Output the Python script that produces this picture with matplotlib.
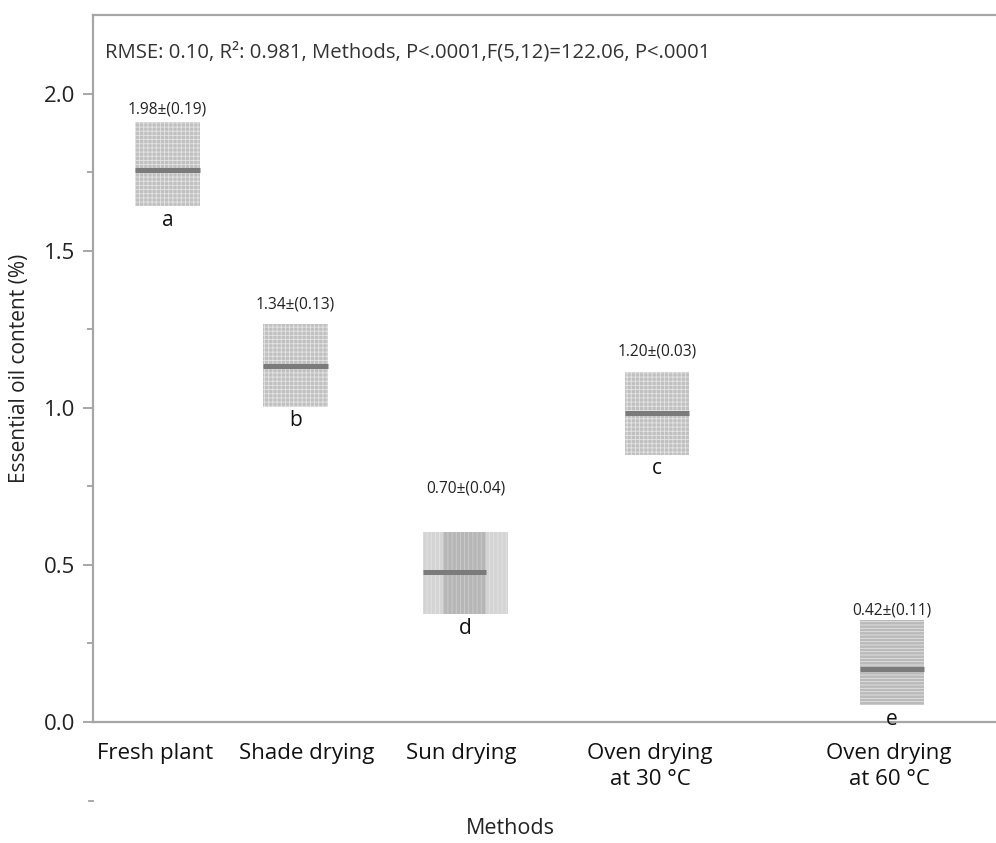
import matplotlib
matplotlib.use("Agg")
import matplotlib.pyplot as plt
from matplotlib.patches import Rectangle
import matplotlib.transforms as mtransforms

plt.rcParams['font.family'] = ['Open Sans', 'DejaVu Sans']
plt.rcParams['hatch.linewidth'] = 0.6

# ---- data ----
categories = ["Fresh plant", "Shade drying", "Sun drying", "Oven drying\nat 30 °C", "Oven drying\nat 60 °C"]
means = [1.756, 1.133, 0.476, 0.984, 0.168]
box_low = [1.641, 1.003, 0.343, 0.851, 0.054]
box_high = [1.908, 1.267, 0.606, 1.114, 0.324]
value_labels = ["1.98±(0.19)", "1.34±(0.13)", "0.70±(0.04)", "1.20±(0.03)", "0.42±(0.11)"]
letters = ["a", "b", "d", "c", "e"]
stats_text = "RMSE: 0.10, R²: 0.981, Methods, P<.0001,F(5,12)=122.06, P<.0001"

# ---- layout ----
box_centers = [0.745, 2.025, 3.725, 5.64, 7.99]
box_widths = [0.645, 0.645, 0.85, 0.645, 0.645]
tick_pos = [0.62, 2.14, 3.68, 5.57, 7.96]
label_y = [1.949, 1.330, 0.743, 1.178, 0.356]
face = ['#c0c0c0', '#c0c0c0', '#d4d4d4', '#c0c0c0', '#bababa']
hatches = ['++++', '++++', '||||', '++++', '-----']

fig = plt.figure(figsize=(9.96, 8.43), dpi=100)
ax = fig.add_axes([93/996, 121/843, 903/996, 707/843])
ax.set_xlim(0, 9.03)
ax.set_ylim(0, 2.25)

for i in range(len(categories)):
    x0 = box_centers[i] - box_widths[i] / 2
    h = box_high[i] - box_low[i]
    ax.add_patch(Rectangle((x0, box_low[i]), box_widths[i], h, facecolor=face[i],
                           edgecolor='none', linewidth=0, zorder=2))
    ax.add_patch(Rectangle((x0, box_low[i]), box_widths[i], h, facecolor='none',
                           edgecolor='#e4e4e4', linewidth=0, hatch=hatches[i], zorder=3))
    line_x1 = x0 + box_widths[i]
    if i == 2:
        # darker inner band of the sun-drying box
        ax.add_patch(Rectangle((x0 + 0.20, box_low[i]), 0.43, h, facecolor='#b6b6b6',
                               edgecolor='none', linewidth=0, zorder=3.5))
        ax.add_patch(Rectangle((x0 + 0.20, box_low[i]), 0.43, h, facecolor='none',
                               edgecolor='#cecece', linewidth=0, hatch='||||', zorder=3.6))
        line_x1 = x0 + 0.63
    ax.plot([x0, line_x1], [means[i], means[i]], color='#7b7b7b', lw=3.6,
            solid_capstyle='butt', zorder=4)
    ax.text(box_centers[i], label_y[i], value_labels[i], ha='center', va='center',
            fontsize=11.2, color='#222222', zorder=5)
    ax.text(box_centers[i], box_low[i] - 0.045, letters[i], ha='center', va='center',
            fontsize=15, color='#111111', zorder=5)

ax.text(0.12, 2.13, stats_text, ha='left', va='center', fontsize=14.6, color='#333333')

ax.set_xticks(tick_pos)
ax.set_xticklabels(categories, fontsize=16, color='#111111', linespacing=1.35)
ax.tick_params(axis='x', length=0, pad=15)
ax.set_yticks([0.0, 0.5, 1.0, 1.5, 2.0])
ax.set_yticklabels(["0.0", "0.5", "1.0", "1.5", "2.0"], fontsize=16, color='#222222')
ax.set_yticks([0.25, 0.75, 1.25, 1.75], minor=True)
ax.tick_params(axis='y', which='major', length=7, width=1.3, color='#a0a0a0', pad=6)
ax.tick_params(axis='y', which='minor', length=4, width=1.3, color='#a0a0a0')

# extra minor tick below the axis (at -0.25)
trans = mtransforms.blended_transform_factory(ax.transAxes, ax.transData)
ax.plot([-0.0045, 0.0], [-0.25, -0.25], transform=trans, color='#a0a0a0', lw=1.3,
        clip_on=False)

for s in ['left', 'top', 'bottom']:
    ax.spines[s].set_color('#a6a6a6')
    ax.spines[s].set_linewidth(1.6)
ax.spines['right'].set_visible(False)

ax.set_ylabel("Essential oil content (%)", fontsize=15, color='#222222', labelpad=10)
fig.text(510/996, 1 - 828/843, "Methods", ha='center', va='center', fontsize=15.5, color='#222222')

fig.savefig("out.png", dpi=100, facecolor='white')
